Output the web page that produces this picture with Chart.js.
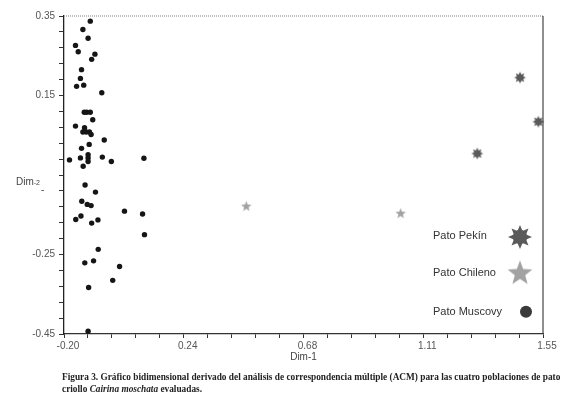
<!DOCTYPE html>
<html lang="es">
<head>
<meta charset="UTF-8">
<title>Figura 3 - ACM</title>
<script src="https://cdn.jsdelivr.net/npm/chart.js"></script>
<style>
  body { margin: 0; background: #fff; }
  #wrap { position: relative; width: 578px; height: 395px; }
  #caption {
    position: absolute; left: 62px; top: 371px;
    font: bold 9.3px "Liberation Serif", "Times New Roman", serif;
    color: #222; line-height: 12px; white-space: nowrap;
  }
</style>
</head>
<body>
<div id="wrap">
  <canvas id="acmChart" width="578" height="395"></canvas>
  <div id="caption">Figura 3. Gráfico bidimensional derivado del análisis de correspondencia múltiple (ACM) para las cuatro poblaciones de pato<br>criollo <i>Cairina moschata</i> evaluadas.</div>
</div>

<script>
    // Pato Muscovy
    const muscovyX = [-0.104, -0.131, -0.112, -0.158, -0.148, -0.087, -0.099, -0.136, -0.140, -0.154,
                      -0.128, -0.062, -0.126, -0.117, -0.104, -0.095, -0.158, -0.125, -0.131, -0.119,
                      -0.107, -0.101, -0.053, -0.108, -0.136, -0.112, -0.180, -0.140, -0.112, -0.112,
                      -0.060, -0.027, 0.092, -0.130, -0.123, -0.085, -0.135, -0.115, -0.101, 0.021,
                      0.087, -0.138, -0.157, -0.076, -0.099, 0.094, -0.075, -0.092, -0.124, 0.003,
                      -0.022, -0.110, -0.112];
    const muscovyY = [0.337, 0.316, 0.294, 0.276, 0.260, 0.254, 0.241, 0.215, 0.193, 0.173,
                      0.176, 0.157, 0.108, 0.108, 0.108, 0.089, 0.073, 0.069, 0.058, 0.058,
                      0.058, 0.052, 0.038, 0.027, 0.017, 0.001, -0.012, -0.007, -0.007, -0.016,
                      -0.005, -0.016, -0.008, -0.028, -0.075, -0.093, -0.116, -0.124, -0.127, -0.141,
                      -0.148, -0.153, -0.162, -0.163, -0.171, -0.200, -0.237, -0.266, -0.271, -0.280,
                      -0.315, -0.333, -0.443];
    // Pato Chileno
    const chilenoX = [0.466, 1.030];
    const chilenoY = [-0.128, -0.146];
    // Pato Pekin
    const pekinX = [1.466, 1.533, 1.310];
    const pekinY = [0.195, 0.084, 0.004];

    const seriesNames = ['Pato Pekín', 'Pato Chileno', 'Pato Muscovy'];

    const xMin = -0.20, xMax = 1.55;
    const yMin = -0.45, yMax = 0.35;
    const xTickValues = [-0.20, 0.2375, 0.675, 1.1125, 1.55];
    const xTickLabels = ['-0.20', '0.24', '0.68', '1.11', '1.55'];
    const yTickValues = [0.35, 0.15, -0.25, -0.45];
    const yTickLabels = ['0.35', '0.15', '-0.25', '-0.45'];

    function makeTicks(min, max, n) {
        const out = [];
        for (let i = 0; i <= n; i++) out.push({ value: min + (max - min) * i / n });
        return out;
    }

    function labelFor(v, values, labels) {
        const i = values.findIndex(t => Math.abs(t - v) < 1e-6);
        return i >= 0 ? labels[i] : '';
    }

    function makeSun(R, color) {
        const c = document.createElement('canvas');
        const s = Math.ceil(2 * R + 2);
        c.width = c.height = s;
        const g = c.getContext('2d');
        const m = s / 2;
        g.fillStyle = color;
        g.beginPath();
        for (let i = 0; i < 16; i++) {
            const a = -Math.PI / 2 + i * Math.PI / 8;
            const r = i % 2 === 0 ? R : R * 0.55;
            g.lineTo(m + r * Math.cos(a), m + r * Math.sin(a));
        }
        g.closePath();
        g.fill();
        g.beginPath();
        g.arc(m, m, R * 0.6, 0, 2 * Math.PI);
        g.fill();
        return c;
    }

    function makeStar(R, color) {
        const c = document.createElement('canvas');
        const s = Math.ceil(2 * R + 2);
        c.width = c.height = s;
        const g = c.getContext('2d');
        const m = s / 2 + R * 0.08;
        g.fillStyle = color;
        g.beginPath();
        for (let i = 0; i < 10; i++) {
            const a = -Math.PI / 2 + i * Math.PI / 5;
            const r = i % 2 === 0 ? R : R * 0.42;
            g.lineTo(s / 2 + r * Math.cos(a), m + r * Math.sin(a));
        }
        g.closePath();
        g.fill();
        return c;
    }

    const pekinColor = '#5a5a5a';
    const chilenoColor = '#a2a2a2';
    const muscovyColor = '#151515';

    const sunSmall = makeSun(6, pekinColor);
    const sunBig = makeSun(12, pekinColor);
    const starSmall = makeStar(5.5, chilenoColor);
    const starBig = makeStar(13, chilenoColor);

    const extras = {
        id: 'extras',
        afterDraw(chart) {
            const ctx = chart.ctx;
            const a = chart.chartArea;
            ctx.save();
            // top frame, dotted grey
            ctx.strokeStyle = '#a8a8a8';
            ctx.lineWidth = 1.5;
            ctx.setLineDash([1, 1]);
            ctx.beginPath();
            ctx.moveTo(a.left, a.top);
            ctx.lineTo(a.right, a.top);
            ctx.stroke();
            ctx.setLineDash([]);
            // right frame
            ctx.strokeStyle = '#444';
            ctx.lineWidth = 1.2;
            ctx.beginPath();
            ctx.moveTo(a.right, a.top);
            ctx.lineTo(a.right, a.bottom);
            ctx.stroke();

            // axis titles
            ctx.fillStyle = '#444';
            ctx.textBaseline = 'middle';
            ctx.font = '10px "Liberation Sans", Arial, sans-serif';
            ctx.textAlign = 'center';
            ctx.fillText('Dim-1', (a.left + a.right) / 2, 357);
            ctx.textAlign = 'left';
            ctx.fillText('Dim', 16, 182);
            const w = ctx.measureText('Dim').width;
            ctx.font = '7px "Liberation Sans", Arial, sans-serif';
            ctx.fillText('-2', 16 + w, 183);
            ctx.font = '10px "Liberation Sans", Arial, sans-serif';
            ctx.fillText('-', 41, 190);

            // legend
            const ly = [236, 272.5, 311.5];
            ctx.fillStyle = '#333';
            ctx.font = '11px "Liberation Sans", Arial, sans-serif';
            seriesNames.forEach((n, i) => ctx.fillText(n, 433, ly[i]));
            ctx.drawImage(sunBig, 520 - sunBig.width / 2, 237 - sunBig.height / 2);
            ctx.drawImage(starBig, 520 - starBig.width / 2, 272.5 - starBig.height / 2);
            ctx.fillStyle = '#3a3a3a';
            ctx.beginPath();
            ctx.arc(526, 311.7, 6, 0, 2 * Math.PI);
            ctx.fill();
            ctx.restore();
        }
    };

    const tickFont = { family: '"Liberation Sans", Arial, sans-serif', size: 10 };

    new Chart(document.getElementById('acmChart').getContext('2d'), {
        type: 'scatter',
        data: {
            datasets: [
                {
                    label: 'Pato Muscovy',
                    data: muscovyX.map((x, i) => ({ x: x, y: muscovyY[i] })),
                    pointStyle: 'circle',
                    pointRadius: 2.7,
                    backgroundColor: muscovyColor,
                    borderWidth: 0,
                    clip: false
                },
                {
                    label: 'Pato Chileno',
                    data: chilenoX.map((x, i) => ({ x: x, y: chilenoY[i] })),
                    pointStyle: starSmall,
                    clip: false
                },
                {
                    label: 'Pato Pekín',
                    data: pekinX.map((x, i) => ({ x: x, y: pekinY[i] })),
                    pointStyle: sunSmall,
                    clip: false
                }
            ]
        },
        options: {
            responsive: false,
            animation: false,
            layout: { padding: { left: 0, top: 16, right: 35, bottom: 0 } },
            plugins: {
                legend: { display: false },
                tooltip: { enabled: false }
            },
            scales: {
                x: {
                    type: 'linear',
                    min: xMin,
                    max: xMax,
                    afterBuildTicks: s => { s.ticks = makeTicks(xMin, xMax, 20); },
                    afterFit: s => { s.height = 61; },
                    grid: { drawOnChartArea: false, drawTicks: true, tickLength: 4, color: '#333' },
                    border: { display: true, color: '#333', width: 1.3 },
                    ticks: {
                        autoSkip: false, maxRotation: 0, minRotation: 0, padding: 2, labelOffset: 4,
                        color: '#555', font: tickFont,
                        callback: v => labelFor(v, xTickValues, xTickLabels)
                    }
                },
                y: {
                    type: 'linear',
                    min: yMin,
                    max: yMax,
                    afterBuildTicks: s => { s.ticks = makeTicks(yMin, yMax, 20); },
                    afterFit: s => { s.width = 64; },
                    grid: { drawOnChartArea: false, drawTicks: true, tickLength: 5, color: '#333' },
                    border: { display: true, color: '#222', width: 1.3 },
                    ticks: {
                        autoSkip: false, padding: 4,
                        color: '#555', font: tickFont,
                        callback: v => labelFor(v, yTickValues, yTickLabels)
                    }
                }
            }
        },
        plugins: [extras]
    });
</script>
</body>
</html>
